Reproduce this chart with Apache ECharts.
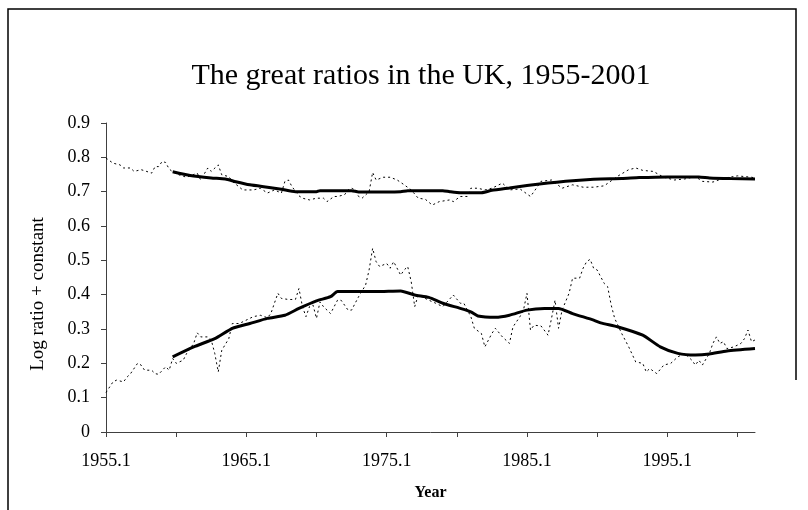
<!DOCTYPE html>
<html>
<head>
<meta charset="utf-8">
<script src="https://cdn.jsdelivr.net/npm/echarts@6/dist/echarts.min.js"></script>
<style>
  html, body { margin: 0; padding: 0; background: #fff; }
  #chart { width: 808px; height: 510px; }
</style>
</head>
<body>
<div id="chart"></div>
<script>
// 季度标签 1955.1 ... 2001.2
const quarters = [];
for (let y = 1955; y <= 2001; y++) {
    for (let q = 1; q <= 4; q++) {
        if (y === 2001 && q > 2) break;
        quarters.push(y + '.' + q);
    }
}

// 上面一条：原始（虚线），按季度序号读取
const upperRawQ = [0, 2, 4, 5, 7, 8, 10, 11, 13, 14, 15, 16, 17, 18, 19, 21, 23, 26, 27, 29, 30, 32, 33, 35, 36, 39, 42, 44, 46, 48, 50, 51, 52, 53, 55, 56, 58, 60, 62, 63, 65, 66, 68, 69, 70, 71, 72, 73, 75, 76, 77, 79, 81, 83, 85, 87, 89, 91, 93, 95, 98, 99, 101, 103, 104, 106, 108, 110, 113, 115, 118, 121, 122, 124, 127, 130, 133, 136, 139, 142, 146, 149, 151, 153, 156, 159, 162, 165, 168, 170, 173, 176, 180, 184, 185];
const upperRaw = [0.798, 0.783, 0.778, 0.769, 0.769, 0.759, 0.764, 0.761, 0.754, 0.773, 0.773, 0.788, 0.785, 0.766, 0.758, 0.748, 0.742, 0.754, 0.734, 0.769, 0.759, 0.778, 0.749, 0.744, 0.730, 0.705, 0.705, 0.710, 0.696, 0.705, 0.696, 0.730, 0.734, 0.715, 0.688, 0.681, 0.676, 0.681, 0.681, 0.671, 0.686, 0.686, 0.691, 0.705, 0.710, 0.705, 0.686, 0.681, 0.700, 0.756, 0.734, 0.742, 0.742, 0.734, 0.720, 0.705, 0.681, 0.678, 0.661, 0.671, 0.676, 0.671, 0.686, 0.686, 0.710, 0.710, 0.705, 0.710, 0.725, 0.705, 0.708, 0.686, 0.700, 0.730, 0.734, 0.710, 0.720, 0.713, 0.713, 0.717, 0.746, 0.764, 0.769, 0.762, 0.759, 0.742, 0.734, 0.737, 0.744, 0.730, 0.728, 0.739, 0.746, 0.742, 0.740];

// 上面一条：平滑趋势（粗线）
const upperTrendQ = [19, 24, 30, 34, 37, 41, 46, 50, 54, 60, 61, 70, 72, 80, 84, 86, 96, 98, 101, 107, 110, 115, 120, 126, 131, 137, 141, 147, 152, 160, 169, 172, 178, 185];
const upperTrend = [0.758, 0.747, 0.740, 0.737, 0.729, 0.720, 0.713, 0.707, 0.700, 0.700, 0.703, 0.703, 0.699, 0.699, 0.700, 0.703, 0.703, 0.700, 0.697, 0.697, 0.704, 0.711, 0.718, 0.725, 0.730, 0.735, 0.737, 0.738, 0.741, 0.743, 0.743, 0.740, 0.738, 0.737];

// 下面一条：原始（虚线）
const lowerRawQ = [0, 2, 3, 5, 6, 7, 9, 10, 11, 13, 14, 15, 17, 18, 19, 20, 22, 23, 25, 26, 27, 29, 30, 31, 32, 33, 35, 36, 38, 41, 42, 44, 46, 47, 48, 49, 50, 52, 54, 55, 56, 57, 58, 59, 60, 61, 62, 64, 66, 67, 69, 70, 72, 74, 75, 76, 77, 78, 80, 81, 82, 84, 85, 86, 87, 88, 89, 92, 94, 96, 99, 101, 102, 104, 105, 107, 108, 110, 111, 113, 115, 116, 118, 119, 120, 121, 122, 124, 126, 127, 128, 129, 130, 132, 133, 135, 136, 137, 138, 139, 140, 142, 143, 144, 145, 147, 149, 151, 153, 154, 155, 157, 159, 161, 163, 165, 167, 168, 169, 170, 172, 173, 174, 175, 176, 177, 179, 181, 182, 183, 184, 185];
const lowerRaw = [0.115, 0.146, 0.151, 0.146, 0.160, 0.170, 0.200, 0.195, 0.180, 0.180, 0.170, 0.168, 0.190, 0.180, 0.214, 0.200, 0.209, 0.229, 0.258, 0.289, 0.277, 0.277, 0.268, 0.229, 0.175, 0.238, 0.272, 0.316, 0.316, 0.331, 0.336, 0.340, 0.333, 0.345, 0.375, 0.404, 0.389, 0.386, 0.386, 0.418, 0.365, 0.336, 0.365, 0.370, 0.331, 0.379, 0.365, 0.345, 0.384, 0.384, 0.355, 0.355, 0.394, 0.428, 0.472, 0.535, 0.496, 0.482, 0.491, 0.477, 0.496, 0.457, 0.472, 0.482, 0.438, 0.365, 0.399, 0.384, 0.375, 0.365, 0.399, 0.375, 0.375, 0.336, 0.302, 0.287, 0.248, 0.287, 0.302, 0.277, 0.258, 0.306, 0.336, 0.355, 0.404, 0.297, 0.311, 0.309, 0.282, 0.331, 0.384, 0.302, 0.355, 0.404, 0.448, 0.448, 0.477, 0.496, 0.503, 0.477, 0.472, 0.433, 0.423, 0.370, 0.331, 0.287, 0.248, 0.204, 0.200, 0.175, 0.185, 0.170, 0.195, 0.200, 0.219, 0.229, 0.209, 0.195, 0.209, 0.195, 0.229, 0.258, 0.277, 0.258, 0.263, 0.243, 0.248, 0.258, 0.272, 0.297, 0.263, 0.268];

// 下面一条：平滑趋势（粗线）
const lowerTrendQ = [19, 25, 31, 36, 41, 46, 51, 55, 60, 64, 66, 77, 84, 88, 92, 96, 101, 104, 106, 111, 115, 120, 125, 129, 133, 139, 141, 146, 153, 158, 163, 168, 172, 177, 185];
const lowerTrend = [0.219, 0.248, 0.272, 0.302, 0.316, 0.331, 0.340, 0.360, 0.382, 0.394, 0.409, 0.409, 0.411, 0.399, 0.392, 0.375, 0.360, 0.350, 0.338, 0.334, 0.340, 0.355, 0.360, 0.360, 0.345, 0.326, 0.318, 0.306, 0.282, 0.248, 0.229, 0.224, 0.227, 0.236, 0.243];

const yTicks = [0, 0.1, 0.2, 0.3, 0.4, 0.5, 0.6, 0.7, 0.8, 0.9];

function pairs(qs, vs) {
    return qs.map((q, i) => [q, vs[i]]);
}

const serif = '"Liberation Serif", "Times New Roman", serif';
const chart = echarts.init(document.getElementById('chart'), null, { renderer: 'canvas' });

function rawSeries(name, qs, vs) {
    return {
        name: name, type: 'line', data: pairs(qs, vs), showSymbol: false,
        lineStyle: { color: '#000', width: 1, type: [2, 3] }, z: 2, animation: false
    };
}
function trendSeries(name, qs, vs) {
    return {
        name: name, type: 'line', data: pairs(qs, vs), showSymbol: false, smooth: 0.2,
        lineStyle: { color: '#000', width: 3 }, z: 3, animation: false
    };
}

chart.setOption({
    backgroundColor: '#fff',
    animation: false,
    title: {
        text: 'The great ratios in the UK, 1955-2001',
        left: 416, top: 56, textAlign: 'center',
        textStyle: { fontFamily: serif, fontSize: 30, fontWeight: 'normal', color: '#000' }
    },
    grid: { left: 106, top: 123, right: 53, bottom: 78 },
    xAxis: {
        type: 'category', data: quarters, boundaryGap: false,
        name: 'Year', nameLocation: 'middle', nameGap: 53,
        nameTextStyle: { fontFamily: serif, fontSize: 16, fontWeight: 'bold', color: '#000' },
        axisLine: { lineStyle: { color: '#404040', width: 1 } },
        axisTick: { interval: 19, length: 5, lineStyle: { color: '#404040' } },
        axisLabel: { interval: 39, margin: 20, fontFamily: serif, fontSize: 18, color: '#000' },
        splitLine: { show: false }
    },
    yAxis: {
        type: 'value', min: yTicks[0], max: yTicks[yTicks.length - 1], interval: 0.1,
        axisLine: { show: true, lineStyle: { color: '#404040', width: 1 } },
        axisTick: { show: true, length: 5, lineStyle: { color: '#404040' } },
        axisLabel: {
            margin: 16, fontFamily: serif, fontSize: 18, color: '#000',
            formatter: v => (Math.abs(v) < 1e-9 ? '0' : v.toFixed(1))
        },
        splitLine: { show: false }
    },
    series: [
        rawSeries('upper raw', upperRawQ, upperRaw),
        trendSeries('upper trend', upperTrendQ, upperTrend),
        rawSeries('lower raw', lowerRawQ, lowerRaw),
        trendSeries('lower trend', lowerTrendQ, lowerTrend)
    ],
    graphic: [
        {
            type: 'polyline', silent: true,
            shape: { points: [[8, 510], [8, 9], [796, 9], [796, 380]] },
            style: { stroke: '#000', lineWidth: 1.5, fill: null }
        },
        {
            // 纵轴标题
            type: 'text', silent: true, x: 38, y: 294, rotation: Math.PI / 2,
            style: {
                text: 'Log ratio + constant', fill: '#000',
                font: '19px ' + serif, align: 'center', verticalAlign: 'middle'
            }
        }
    ]
});
</script>
</body>
</html>
